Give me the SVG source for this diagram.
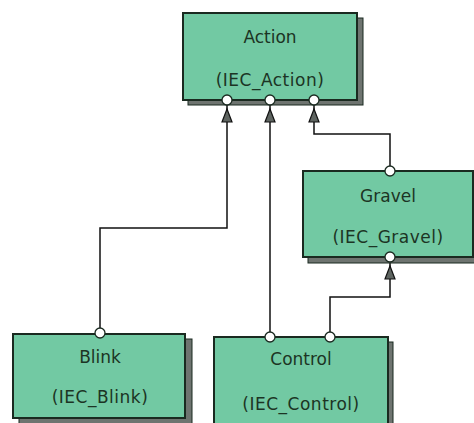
<svg xmlns="http://www.w3.org/2000/svg" width="474" height="423" viewBox="0 0 474 423">
<defs>
<style>
.box{fill:#72c9a3;stroke:#1a2a20;stroke-width:2}
.shadow{fill:#6e7470;stroke:#1a2a20;stroke-width:1}
.t{font-family:"DejaVu Sans","Liberation Sans",sans-serif;font-size:17px;fill:#1c3424;text-anchor:middle}
.c{fill:#ffffff;stroke:#1a2a20;stroke-width:1.3}
.ln{fill:none;stroke:#111;stroke-width:1.5}
.ah{fill:#5e6460;stroke:#111;stroke-width:1.2}
</style>
</defs>
<rect width="474" height="423" fill="#ffffff"/>
<g id="connectors">
<polyline class="ln" points="227,100 227,228 100,228 100,333"/>
<polyline class="ln" points="270,100 270,337"/>
<polyline class="ln" points="314,100 314,134 390,134 390,171"/>
<polyline class="ln" points="390,257 390,297 330,297 330,337"/>
<polygon class="ah" points="227,109 222,122 232,122"/>
<polygon class="ah" points="270,109 265,122 275,122"/>
<polygon class="ah" points="314,109 309,122 319,122"/>
<polygon class="ah" points="390,266 385,279 395,279"/>
</g>
<g id="action">
<rect class="shadow" x="188" y="18" width="175" height="87"/>
<rect class="box" x="183" y="13" width="174" height="87"/>
<text class="t" x="270" y="43">Action</text>
<text class="t" x="270" y="86" letter-spacing="0.5">(IEC_Action)</text>
<circle class="c" cx="227" cy="100" r="5"/>
<circle class="c" cx="270" cy="100" r="5"/>
<circle class="c" cx="314" cy="100" r="5"/>
</g>
<g id="gravel">
<rect class="shadow" x="308" y="176" width="170" height="87"/>
<rect class="box" x="303" y="171" width="170" height="86"/>
<text class="t" x="388" y="202">Gravel</text>
<text class="t" x="388" y="243" letter-spacing="0.5">(IEC_Gravel)</text>
<circle class="c" cx="390" cy="171" r="5"/>
<circle class="c" cx="390" cy="257" r="5"/>
</g>
<g id="blink">
<rect class="shadow" x="19" y="339" width="173" height="90"/>
<rect class="box" x="13" y="334" width="172" height="84"/>
<text class="t" x="100" y="363">Blink</text>
<text class="t" x="100" y="403" letter-spacing="0.5">(IEC_Blink)</text>
<circle class="c" cx="100" cy="333" r="5"/>
</g>
<g id="control">
<rect class="shadow" x="219" y="342" width="174" height="90"/>
<rect class="box" x="214" y="337" width="174" height="90"/>
<text class="t" x="301" y="365">Control</text>
<text class="t" x="301" y="410" letter-spacing="0.5">(IEC_Control)</text>
<circle class="c" cx="270" cy="337" r="5"/>
<circle class="c" cx="330" cy="337" r="5"/>
</g>
</svg>
